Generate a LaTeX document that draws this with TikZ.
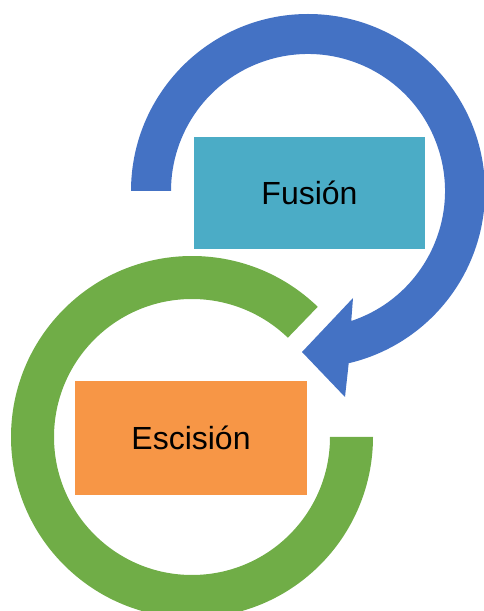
\documentclass[tikz,border=0pt]{standalone}
\usepackage{fontspec}
\setmainfont{Liberation Sans}
\definecolor{arrowblue}{HTML}{4472C4}
\definecolor{ringgreen}{HTML}{70AD47}
\definecolor{fusionteal}{HTML}{4BACC6}
\definecolor{escisionorange}{HTML}{F79646}
\tikzset{
  phasebox/.style={rectangle,inner sep=0pt,text=black,
    font=\fontsize{32}{38}\selectfont}
}
\begin{document}
\begin{tikzpicture}[x=1pt,y=1pt]
  \useasboundingbox (0,0) rectangle (484,611);
  % Blue circular arrow: from the left end round to the arrowhead
  \begin{scope}[shift={(308,420)}]
    \fill[arrowblue] (180:177) arc[start angle=180,end angle=-76.7,radius=177]
      -- (37,-206) -- (-6,-161) -- (45,-107) -- (-71.6:137)
      arc[start angle=-71.6,end angle=180,radius=137] -- cycle;
  \end{scope}
  % Green ring, open at the top right
  \begin{scope}[shift={(192,174)}]
    \fill[ringgreen] (46:181) arc[start angle=46,end angle=360,radius=181]
      -- (0:138) arc[start angle=360,end angle=46,radius=138] -- cycle;
  \end{scope}
  % Boxes
  \node[phasebox,fill=fusionteal,minimum width=231pt,minimum height=112pt]
    (fusion) at (309.5,418) {Fusión};
  \node[phasebox,fill=escisionorange,minimum width=232pt,minimum height=114pt]
    (escision) at (191,173) {Escisión};
\end{tikzpicture}
\end{document}
